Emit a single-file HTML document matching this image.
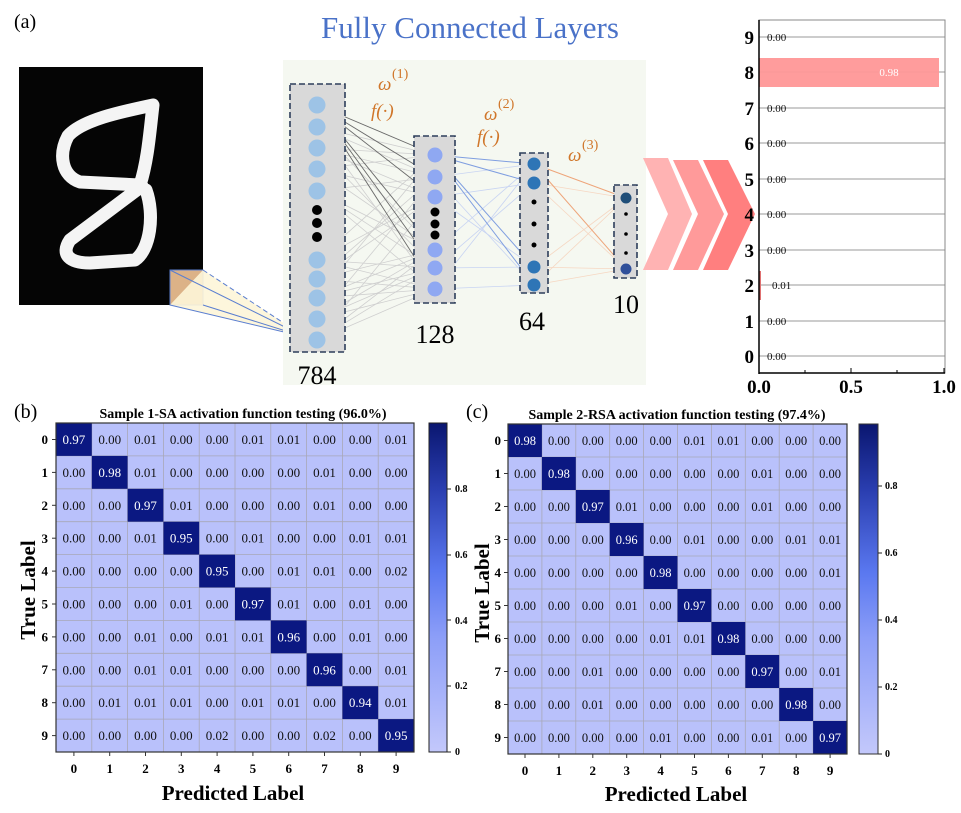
<!DOCTYPE html>
<html><head><meta charset="utf-8"><style>
html,body{margin:0;padding:0;background:#fff;}
svg{display:block;font-family:"Liberation Serif",serif;}
</style></head><body>
<svg width="961" height="813" viewBox="0 0 961 813" xmlns="http://www.w3.org/2000/svg">
<text x="14" y="28" font-size="20">(a)</text>
<text x="470" y="38" font-size="31" fill="#4a72c8" text-anchor="middle">Fully Connected Layers</text>

<!-- digit image -->
<rect x="19" y="67" width="184" height="238" fill="#050505"/>
<g fill="none" stroke="#f4f4f4" stroke-linecap="round" stroke-linejoin="round" stroke-width="13">
<path d="M153,105 C120,112 82,120 68,136 C58,155 62,176 80,182 L140,185 C148,160 150,130 153,105 Z"/>
<path d="M142,186 L70,240 C60,255 70,263 90,263 L135,260 C150,250 155,215 146,190"/>
</g>
<rect x="170" y="270" width="33" height="35" fill="#dcb287" stroke="#5a7ed0" stroke-width="1"/>
<polygon points="203,270 305,337 170,305" fill="#fdf5d8" opacity="0.9"/>
<line x1="203" y1="270" x2="305" y2="337" stroke="#5a7ed0" stroke-dasharray="5,3"/>
<line x1="170" y1="305" x2="305" y2="337" stroke="#5a7ed0"/>
<line x1="203" y1="305" x2="305" y2="337" stroke="#5a7ed0"/>
<line x1="170" y1="270" x2="305" y2="337" stroke="#5a7ed0"/>

<!-- network panel -->
<rect x="283" y="60" width="363" height="325" fill="#f5f8f1"/>
<g stroke="#cfcfcf" stroke-width="0.8">
<line x1="317" y1="127" x2="435" y2="155"/><line x1="317" y1="148" x2="435" y2="177"/><line x1="317" y1="169" x2="435" y2="197"/><line x1="317" y1="191" x2="435" y2="250"/><line x1="317" y1="260" x2="435" y2="268"/><line x1="317" y1="279" x2="435" y2="289"/><line x1="317" y1="298" x2="435" y2="155"/><line x1="317" y1="319" x2="435" y2="177"/><line x1="317" y1="340" x2="435" y2="197"/><line x1="317" y1="127" x2="435" y2="289"/><line x1="317" y1="148" x2="435" y2="268"/><line x1="317" y1="169" x2="435" y2="250"/><line x1="317" y1="260" x2="435" y2="155"/><line x1="317" y1="279" x2="435" y2="197"/><line x1="317" y1="298" x2="435" y2="250"/><line x1="317" y1="319" x2="435" y2="268"/><line x1="317" y1="340" x2="435" y2="289"/><line x1="317" y1="191" x2="435" y2="177"/><line x1="317" y1="340" x2="435" y2="250"/><line x1="317" y1="319" x2="435" y2="289"/><line x1="317" y1="260" x2="435" y2="289"/><line x1="317" y1="279" x2="435" y2="250"/><line x1="317" y1="169" x2="435" y2="155"/>
<line x1="317" y1="127" x2="435" y2="177"/><line x1="317" y1="148" x2="435" y2="197"/><line x1="317" y1="191" x2="435" y2="268"/><line x1="317" y1="260" x2="435" y2="197"/><line x1="317" y1="279" x2="435" y2="177"/><line x1="317" y1="298" x2="435" y2="289"/><line x1="317" y1="319" x2="435" y2="250"/><line x1="317" y1="340" x2="435" y2="268"/><line x1="317" y1="127" x2="435" y2="250"/><line x1="317" y1="148" x2="435" y2="155"/><line x1="317" y1="191" x2="435" y2="289"/><line x1="317" y1="298" x2="435" y2="268"/>
</g>
<g stroke="#6a6a6a" stroke-width="0.9">
<line x1="317" y1="105" x2="435" y2="155"/><line x1="317" y1="105" x2="435" y2="177"/><line x1="317" y1="105" x2="435" y2="197"/><line x1="317" y1="105" x2="435" y2="250"/><line x1="317" y1="105" x2="435" y2="268"/><line x1="317" y1="105" x2="435" y2="289"/>
</g>
<g stroke="#c8d4f2" stroke-width="0.8">
<line x1="435" y1="177" x2="534" y2="164"/><line x1="435" y1="197" x2="534" y2="183"/><line x1="435" y1="250" x2="534" y2="164"/><line x1="435" y1="268" x2="534" y2="267"/><line x1="435" y1="289" x2="534" y2="285"/><line x1="435" y1="289" x2="534" y2="164"/><line x1="435" y1="268" x2="534" y2="183"/><line x1="435" y1="177" x2="534" y2="285"/><line x1="435" y1="197" x2="534" y2="267"/>
</g>
<g stroke="#7f9ee0" stroke-width="1">
<line x1="435" y1="155" x2="534" y2="164"/><line x1="435" y1="155" x2="534" y2="183"/><line x1="435" y1="155" x2="534" y2="267"/><line x1="435" y1="155" x2="534" y2="285"/>
</g>
<g stroke="#f6d7c2" stroke-width="0.8">
<line x1="534" y1="183" x2="626" y2="198"/><line x1="534" y1="267" x2="626" y2="198"/><line x1="534" y1="285" x2="626" y2="269"/><line x1="534" y1="267" x2="626" y2="269"/><line x1="534" y1="285" x2="626" y2="198"/><line x1="534" y1="183" x2="626" y2="269"/>
</g>
<g stroke="#eea57a" stroke-width="1"><line x1="534" y1="164" x2="626" y2="198"/><line x1="534" y1="164" x2="626" y2="269"/></g>

<g fill="#d9d9d9" stroke="#2d3e5a" stroke-width="1.6" stroke-dasharray="6,3">
<rect x="290" y="84" width="55" height="268"/>
<rect x="414" y="136" width="41" height="167"/>
<rect x="520" y="153" width="28" height="140"/>
<rect x="614" y="185" width="23" height="93"/>
</g>
<g fill="#9dc3e6">
<circle cx="317" cy="105" r="8.5"/><circle cx="317" cy="127" r="8.5"/><circle cx="317" cy="148" r="8.5"/><circle cx="317" cy="169" r="8.5"/><circle cx="317" cy="191" r="8.5"/><circle cx="317" cy="260" r="8.5"/><circle cx="317" cy="279" r="8.5"/><circle cx="317" cy="298" r="8.5"/><circle cx="317" cy="319" r="8.5"/><circle cx="317" cy="340" r="8.5"/>
</g>
<g fill="#000"><circle cx="317" cy="210" r="5"/><circle cx="317" cy="223" r="5"/><circle cx="317" cy="237" r="5"/>
<circle cx="435" cy="212" r="4.5"/><circle cx="435" cy="224" r="4.5"/><circle cx="435" cy="235" r="4.5"/>
<circle cx="534" cy="202" r="2.5"/><circle cx="534" cy="224" r="2.5"/><circle cx="534" cy="245" r="2.5"/>
<circle cx="626" cy="214" r="1.8"/><circle cx="626" cy="234" r="1.8"/><circle cx="626" cy="253" r="1.8"/></g>
<g fill="#8fa8f2"><circle cx="435" cy="155" r="7.5"/><circle cx="435" cy="177" r="7.5"/><circle cx="435" cy="197" r="7.5"/><circle cx="435" cy="250" r="7.5"/><circle cx="435" cy="268" r="7.5"/><circle cx="435" cy="289" r="7.5"/></g>
<g fill="#2e75b6"><circle cx="534" cy="164" r="6.5"/><circle cx="534" cy="183" r="6.5"/><circle cx="534" cy="267" r="6.5"/><circle cx="534" cy="285" r="6.5"/></g>
<circle cx="626" cy="198" r="5.5" fill="#1f4e79"/><circle cx="626" cy="269" r="5.5" fill="#2f4f9a"/>
<g font-size="26" text-anchor="middle"><text x="317" y="384">784</text><text x="435" y="343">128</text><text x="532" y="330">64</text><text x="626" y="313">10</text></g>
<g fill="#d0762a" font-size="19">
<text x="378" y="90" font-style="italic">ω</text><text x="392" y="78" font-size="14">(1)</text>
<text x="371" y="117" font-style="italic">f(·)</text>
<text x="484" y="120" font-style="italic">ω</text><text x="498" y="108" font-size="14">(2)</text>
<text x="477" y="143" font-style="italic">f(·)</text>
<text x="568" y="161" font-style="italic">ω</text><text x="582" y="149" font-size="14">(3)</text>
</g>
<!-- chevrons -->
<polygon points="643,158 668,158 692,214 668,270 643,270 668,214" fill="#ffb3b3"/>
<polygon points="673,160 698,160 724,214 698,270 673,270 698,214" fill="#ff9a9a"/>
<polygon points="703,160 728,160 755,214 728,270 703,270 728,214" fill="#ff7f7f"/>

<!-- bar chart -->
<g stroke="#999" stroke-width="1">
<line x1="759" y1="37" x2="945" y2="37"/><line x1="759" y1="72" x2="945" y2="72"/><line x1="759" y1="108" x2="945" y2="108"/><line x1="759" y1="143" x2="945" y2="143"/><line x1="759" y1="179" x2="945" y2="179"/><line x1="759" y1="214" x2="945" y2="214"/><line x1="759" y1="250" x2="945" y2="250"/><line x1="759" y1="285" x2="945" y2="285"/><line x1="759" y1="321" x2="945" y2="321"/><line x1="759" y1="356" x2="945" y2="356"/>
</g>
<rect x="759" y="58" width="180" height="29" fill="#ff9797" opacity="0.95"/>
<rect x="759" y="271" width="2" height="29" fill="#e07070"/>
<rect x="759" y="20" width="186" height="353" fill="none" stroke="#888" stroke-width="1"/>
<line x1="759" y1="20" x2="759" y2="374" stroke="#000" stroke-width="1.5"/>
<line x1="759" y1="373" x2="945" y2="373" stroke="#000" stroke-width="1.5"/>
<g stroke="#000"><line x1="805" y1="373" x2="805" y2="370"/><line x1="851" y1="373" x2="851" y2="368"/><line x1="897" y1="373" x2="897" y2="370"/><line x1="944" y1="373" x2="944" y2="368"/></g>
<g font-size="11" fill="#111"><text x="767" y="41">0.00</text><text x="767" y="112">0.00</text><text x="767" y="147">0.00</text><text x="767" y="183">0.00</text><text x="767" y="218">0.00</text><text x="767" y="254">0.00</text><text x="772" y="289">0.01</text><text x="767" y="325">0.00</text><text x="767" y="360">0.00</text></g>
<text x="889" y="76" font-size="11" fill="#fff" text-anchor="middle">0.98</text>
<g font-size="19" font-weight="bold" text-anchor="end"><text x="754" y="44">9</text><text x="754" y="79">8</text><text x="754" y="115">7</text><text x="754" y="150">6</text><text x="754" y="186">5</text><text x="754" y="221">4</text><text x="754" y="257">3</text><text x="754" y="292">2</text><text x="754" y="328">1</text><text x="754" y="363">0</text></g>
<g font-size="19" font-weight="bold" text-anchor="middle"><text x="759" y="393">0.0</text><text x="851" y="393">0.5</text><text x="944" y="393">1.0</text></g>

<!-- (b) -->
<text x="14" y="418" font-size="20">(b)</text>
<text x="243" y="418" font-size="14" font-weight="bold" text-anchor="middle">Sample 1-SA activation function testing (96.0%)</text>
<g transform="translate(56,423)">
<rect width="358" height="329" fill="#b9c1fb"/>
<g stroke="#a8a8b8" stroke-width="0.8">
<line x1="35.8" y1="0" x2="35.8" y2="329"/><line x1="71.6" y1="0" x2="71.6" y2="329"/><line x1="107.4" y1="0" x2="107.4" y2="329"/><line x1="143.2" y1="0" x2="143.2" y2="329"/><line x1="179" y1="0" x2="179" y2="329"/><line x1="214.8" y1="0" x2="214.8" y2="329"/><line x1="250.6" y1="0" x2="250.6" y2="329"/><line x1="286.4" y1="0" x2="286.4" y2="329"/><line x1="322.2" y1="0" x2="322.2" y2="329"/>
<line y1="32.9" x1="0" y2="32.9" x2="358"/><line y1="65.8" x1="0" y2="65.8" x2="358"/><line y1="98.7" x1="0" y2="98.7" x2="358"/><line y1="131.6" x1="0" y2="131.6" x2="358"/><line y1="164.5" x1="0" y2="164.5" x2="358"/><line y1="197.4" x1="0" y2="197.4" x2="358"/><line y1="230.3" x1="0" y2="230.3" x2="358"/><line y1="263.2" x1="0" y2="263.2" x2="358"/><line y1="296.1" x1="0" y2="296.1" x2="358"/>
</g>
<g fill="#0b1882"><rect x="0" y="0" width="35.8" height="32.9"/><rect x="35.8" y="32.9" width="35.8" height="32.9"/><rect x="71.6" y="65.8" width="35.8" height="32.9"/><rect x="107.4" y="98.7" width="35.8" height="32.9"/><rect x="143.2" y="131.6" width="35.8" height="32.9"/><rect x="179" y="164.5" width="35.8" height="32.9"/><rect x="214.8" y="197.4" width="35.8" height="32.9"/><rect x="250.6" y="230.3" width="35.8" height="32.9"/><rect x="286.4" y="263.2" width="35.8" height="32.9"/><rect x="322.2" y="296.1" width="35.8" height="32.9"/></g>
<rect width="358" height="329" fill="none" stroke="#333" stroke-width="1.2"/>
<g stroke="#333"><line x1="-4" y1="16.5" x2="0" y2="16.5"/><line x1="-4" y1="49.4" x2="0" y2="49.4"/><line x1="-4" y1="82.3" x2="0" y2="82.3"/><line x1="-4" y1="115.2" x2="0" y2="115.2"/><line x1="-4" y1="148.1" x2="0" y2="148.1"/><line x1="-4" y1="181" x2="0" y2="181"/><line x1="-4" y1="213.9" x2="0" y2="213.9"/><line x1="-4" y1="246.8" x2="0" y2="246.8"/><line x1="-4" y1="279.7" x2="0" y2="279.7"/><line x1="-4" y1="312.6" x2="0" y2="312.6"/>
<line x1="17.9" y1="329" x2="17.9" y2="333"/><line x1="53.7" y1="329" x2="53.7" y2="333"/><line x1="89.5" y1="329" x2="89.5" y2="333"/><line x1="125.3" y1="329" x2="125.3" y2="333"/><line x1="161.1" y1="329" x2="161.1" y2="333"/><line x1="196.9" y1="329" x2="196.9" y2="333"/><line x1="232.7" y1="329" x2="232.7" y2="333"/><line x1="268.5" y1="329" x2="268.5" y2="333"/><line x1="304.3" y1="329" x2="304.3" y2="333"/><line x1="340.1" y1="329" x2="340.1" y2="333"/></g>
<g font-size="13" text-anchor="middle" fill="#111">
<text y="21"><tspan x="17.9" fill="#fff">0.97</tspan><tspan x="53.7">0.00</tspan><tspan x="89.5">0.01</tspan><tspan x="125.3">0.00</tspan><tspan x="161.1">0.00</tspan><tspan x="196.9">0.01</tspan><tspan x="232.7">0.01</tspan><tspan x="268.5">0.00</tspan><tspan x="304.3">0.00</tspan><tspan x="340.1">0.01</tspan></text>
<text y="53.9"><tspan x="17.9">0.00</tspan><tspan x="53.7" fill="#fff">0.98</tspan><tspan x="89.5">0.01</tspan><tspan x="125.3">0.00</tspan><tspan x="161.1">0.00</tspan><tspan x="196.9">0.00</tspan><tspan x="232.7">0.00</tspan><tspan x="268.5">0.01</tspan><tspan x="304.3">0.00</tspan><tspan x="340.1">0.00</tspan></text>
<text y="86.8"><tspan x="17.9">0.00</tspan><tspan x="53.7">0.00</tspan><tspan x="89.5" fill="#fff">0.97</tspan><tspan x="125.3">0.01</tspan><tspan x="161.1">0.00</tspan><tspan x="196.9">0.00</tspan><tspan x="232.7">0.00</tspan><tspan x="268.5">0.01</tspan><tspan x="304.3">0.00</tspan><tspan x="340.1">0.00</tspan></text>
<text y="119.7"><tspan x="17.9">0.00</tspan><tspan x="53.7">0.00</tspan><tspan x="89.5">0.01</tspan><tspan x="125.3" fill="#fff">0.95</tspan><tspan x="161.1">0.00</tspan><tspan x="196.9">0.01</tspan><tspan x="232.7">0.00</tspan><tspan x="268.5">0.00</tspan><tspan x="304.3">0.01</tspan><tspan x="340.1">0.01</tspan></text>
<text y="152.6"><tspan x="17.9">0.00</tspan><tspan x="53.7">0.00</tspan><tspan x="89.5">0.00</tspan><tspan x="125.3">0.00</tspan><tspan x="161.1" fill="#fff">0.95</tspan><tspan x="196.9">0.00</tspan><tspan x="232.7">0.01</tspan><tspan x="268.5">0.01</tspan><tspan x="304.3">0.00</tspan><tspan x="340.1">0.02</tspan></text>
<text y="185.5"><tspan x="17.9">0.00</tspan><tspan x="53.7">0.00</tspan><tspan x="89.5">0.00</tspan><tspan x="125.3">0.01</tspan><tspan x="161.1">0.00</tspan><tspan x="196.9" fill="#fff">0.97</tspan><tspan x="232.7">0.01</tspan><tspan x="268.5">0.00</tspan><tspan x="304.3">0.01</tspan><tspan x="340.1">0.00</tspan></text>
<text y="218.4"><tspan x="17.9">0.00</tspan><tspan x="53.7">0.00</tspan><tspan x="89.5">0.01</tspan><tspan x="125.3">0.00</tspan><tspan x="161.1">0.01</tspan><tspan x="196.9">0.01</tspan><tspan x="232.7" fill="#fff">0.96</tspan><tspan x="268.5">0.00</tspan><tspan x="304.3">0.01</tspan><tspan x="340.1">0.00</tspan></text>
<text y="251.3"><tspan x="17.9">0.00</tspan><tspan x="53.7">0.00</tspan><tspan x="89.5">0.01</tspan><tspan x="125.3">0.01</tspan><tspan x="161.1">0.00</tspan><tspan x="196.9">0.00</tspan><tspan x="232.7">0.00</tspan><tspan x="268.5" fill="#fff">0.96</tspan><tspan x="304.3">0.00</tspan><tspan x="340.1">0.01</tspan></text>
<text y="284.2"><tspan x="17.9">0.00</tspan><tspan x="53.7">0.01</tspan><tspan x="89.5">0.01</tspan><tspan x="125.3">0.01</tspan><tspan x="161.1">0.00</tspan><tspan x="196.9">0.01</tspan><tspan x="232.7">0.01</tspan><tspan x="268.5">0.00</tspan><tspan x="304.3" fill="#fff">0.94</tspan><tspan x="340.1">0.01</tspan></text>
<text y="317.1"><tspan x="17.9">0.00</tspan><tspan x="53.7">0.00</tspan><tspan x="89.5">0.00</tspan><tspan x="125.3">0.00</tspan><tspan x="161.1">0.02</tspan><tspan x="196.9">0.00</tspan><tspan x="232.7">0.00</tspan><tspan x="268.5">0.02</tspan><tspan x="304.3">0.00</tspan><tspan x="340.1" fill="#fff">0.95</tspan></text>
</g>
<g font-size="13" font-weight="bold" text-anchor="end"><text x="-8" y="21">0</text><text x="-8" y="54">1</text><text x="-8" y="87">2</text><text x="-8" y="120">3</text><text x="-8" y="152.5">4</text><text x="-8" y="185.5">5</text><text x="-8" y="218.5">6</text><text x="-8" y="251">7</text><text x="-8" y="284">8</text><text x="-8" y="317">9</text></g>
<g font-size="13" font-weight="bold" text-anchor="middle"><text y="350" x="17.9">0</text><text y="350" x="53.7">1</text><text y="350" x="89.5">2</text><text y="350" x="125.3">3</text><text y="350" x="161.1">4</text><text y="350" x="196.9">5</text><text y="350" x="232.7">6</text><text y="350" x="268.5">7</text><text y="350" x="304.3">8</text><text y="350" x="340.1">9</text></g>
</g>
<text x="233" y="800" font-size="21" font-weight="bold" text-anchor="middle">Predicted Label</text>
<text transform="translate(35,590) rotate(-90)" font-size="21" font-weight="bold" text-anchor="middle">True Label</text>

<defs><linearGradient id="cb" x1="0" y1="1" x2="0" y2="0">
<stop offset="0" stop-color="#c3c8fb"/><stop offset="0.35" stop-color="#8c9ef8"/><stop offset="0.55" stop-color="#5a78f0"/><stop offset="0.8" stop-color="#2a3eb0"/><stop offset="1" stop-color="#0a1670"/></linearGradient></defs>
<rect x="429" y="423" width="18" height="329" fill="url(#cb)" stroke="#222"/>
<g stroke="#222"><line x1="447" y1="752" x2="451" y2="752"/><line x1="447" y1="686" x2="451" y2="686"/><line x1="447" y1="620" x2="451" y2="620"/><line x1="447" y1="555" x2="451" y2="555"/><line x1="447" y1="489" x2="451" y2="489"/></g>
<g font-size="10" font-weight="bold"><text x="455" y="755">0</text><text x="455" y="689">0.2</text><text x="455" y="624">0.4</text><text x="455" y="558">0.6</text><text x="455" y="492">0.8</text></g>

<!-- (c) -->
<text x="466" y="418" font-size="20">(c)</text>
<text x="677" y="419" font-size="14" font-weight="bold" text-anchor="middle">Sample 2-RSA activation function testing (97.4%)</text>
<g transform="translate(508,424)">
<rect width="339" height="330" fill="#b9c1fb"/>
<g stroke="#a8a8b8" stroke-width="0.8">
<line x1="33.9" y1="0" x2="33.9" y2="330"/><line x1="67.8" y1="0" x2="67.8" y2="330"/><line x1="101.7" y1="0" x2="101.7" y2="330"/><line x1="135.6" y1="0" x2="135.6" y2="330"/><line x1="169.5" y1="0" x2="169.5" y2="330"/><line x1="203.4" y1="0" x2="203.4" y2="330"/><line x1="237.3" y1="0" x2="237.3" y2="330"/><line x1="271.2" y1="0" x2="271.2" y2="330"/><line x1="305.1" y1="0" x2="305.1" y2="330"/>
<line y1="33" x1="0" y2="33" x2="339"/><line y1="66" x1="0" y2="66" x2="339"/><line y1="99" x1="0" y2="99" x2="339"/><line y1="132" x1="0" y2="132" x2="339"/><line y1="165" x1="0" y2="165" x2="339"/><line y1="198" x1="0" y2="198" x2="339"/><line y1="231" x1="0" y2="231" x2="339"/><line y1="264" x1="0" y2="264" x2="339"/><line y1="297" x1="0" y2="297" x2="339"/>
</g>
<g fill="#0b1882"><rect x="0" y="0" width="33.9" height="33"/><rect x="33.9" y="33" width="33.9" height="33"/><rect x="67.8" y="66" width="33.9" height="33"/><rect x="101.7" y="99" width="33.9" height="33"/><rect x="135.6" y="132" width="33.9" height="33"/><rect x="169.5" y="165" width="33.9" height="33"/><rect x="203.4" y="198" width="33.9" height="33"/><rect x="237.3" y="231" width="33.9" height="33"/><rect x="271.2" y="264" width="33.9" height="33"/><rect x="305.1" y="297" width="33.9" height="33"/></g>
<rect width="339" height="330" fill="none" stroke="#333" stroke-width="1.2"/>
<g stroke="#333"><line x1="-4" y1="16.5" x2="0" y2="16.5"/><line x1="-4" y1="49.5" x2="0" y2="49.5"/><line x1="-4" y1="82.5" x2="0" y2="82.5"/><line x1="-4" y1="115.5" x2="0" y2="115.5"/><line x1="-4" y1="148.5" x2="0" y2="148.5"/><line x1="-4" y1="181.5" x2="0" y2="181.5"/><line x1="-4" y1="214.5" x2="0" y2="214.5"/><line x1="-4" y1="247.5" x2="0" y2="247.5"/><line x1="-4" y1="280.5" x2="0" y2="280.5"/><line x1="-4" y1="313.5" x2="0" y2="313.5"/>
<line x1="17" y1="330" x2="17" y2="334"/><line x1="50.9" y1="330" x2="50.9" y2="334"/><line x1="84.8" y1="330" x2="84.8" y2="334"/><line x1="118.7" y1="330" x2="118.7" y2="334"/><line x1="152.6" y1="330" x2="152.6" y2="334"/><line x1="186.5" y1="330" x2="186.5" y2="334"/><line x1="220.4" y1="330" x2="220.4" y2="334"/><line x1="254.3" y1="330" x2="254.3" y2="334"/><line x1="288.2" y1="330" x2="288.2" y2="334"/><line x1="322.1" y1="330" x2="322.1" y2="334"/></g>
<g font-size="12.5" text-anchor="middle" fill="#111">
<text y="21"><tspan x="17" fill="#fff">0.98</tspan><tspan x="50.9">0.00</tspan><tspan x="84.8">0.00</tspan><tspan x="118.7">0.00</tspan><tspan x="152.6">0.00</tspan><tspan x="186.5">0.01</tspan><tspan x="220.4">0.01</tspan><tspan x="254.3">0.00</tspan><tspan x="288.2">0.00</tspan><tspan x="322.1">0.00</tspan></text>
<text y="54"><tspan x="17">0.00</tspan><tspan x="50.9" fill="#fff">0.98</tspan><tspan x="84.8">0.00</tspan><tspan x="118.7">0.00</tspan><tspan x="152.6">0.00</tspan><tspan x="186.5">0.00</tspan><tspan x="220.4">0.00</tspan><tspan x="254.3">0.01</tspan><tspan x="288.2">0.00</tspan><tspan x="322.1">0.00</tspan></text>
<text y="87"><tspan x="17">0.00</tspan><tspan x="50.9">0.00</tspan><tspan x="84.8" fill="#fff">0.97</tspan><tspan x="118.7">0.01</tspan><tspan x="152.6">0.00</tspan><tspan x="186.5">0.00</tspan><tspan x="220.4">0.00</tspan><tspan x="254.3">0.01</tspan><tspan x="288.2">0.00</tspan><tspan x="322.1">0.00</tspan></text>
<text y="120"><tspan x="17">0.00</tspan><tspan x="50.9">0.00</tspan><tspan x="84.8">0.00</tspan><tspan x="118.7" fill="#fff">0.96</tspan><tspan x="152.6">0.00</tspan><tspan x="186.5">0.01</tspan><tspan x="220.4">0.00</tspan><tspan x="254.3">0.00</tspan><tspan x="288.2">0.01</tspan><tspan x="322.1">0.01</tspan></text>
<text y="153"><tspan x="17">0.00</tspan><tspan x="50.9">0.00</tspan><tspan x="84.8">0.00</tspan><tspan x="118.7">0.00</tspan><tspan x="152.6" fill="#fff">0.98</tspan><tspan x="186.5">0.00</tspan><tspan x="220.4">0.00</tspan><tspan x="254.3">0.00</tspan><tspan x="288.2">0.00</tspan><tspan x="322.1">0.01</tspan></text>
<text y="186"><tspan x="17">0.00</tspan><tspan x="50.9">0.00</tspan><tspan x="84.8">0.00</tspan><tspan x="118.7">0.01</tspan><tspan x="152.6">0.00</tspan><tspan x="186.5" fill="#fff">0.97</tspan><tspan x="220.4">0.00</tspan><tspan x="254.3">0.00</tspan><tspan x="288.2">0.00</tspan><tspan x="322.1">0.00</tspan></text>
<text y="219"><tspan x="17">0.00</tspan><tspan x="50.9">0.00</tspan><tspan x="84.8">0.00</tspan><tspan x="118.7">0.00</tspan><tspan x="152.6">0.01</tspan><tspan x="186.5">0.01</tspan><tspan x="220.4" fill="#fff">0.98</tspan><tspan x="254.3">0.00</tspan><tspan x="288.2">0.00</tspan><tspan x="322.1">0.00</tspan></text>
<text y="252"><tspan x="17">0.00</tspan><tspan x="50.9">0.00</tspan><tspan x="84.8">0.01</tspan><tspan x="118.7">0.00</tspan><tspan x="152.6">0.00</tspan><tspan x="186.5">0.00</tspan><tspan x="220.4">0.00</tspan><tspan x="254.3" fill="#fff">0.97</tspan><tspan x="288.2">0.00</tspan><tspan x="322.1">0.01</tspan></text>
<text y="285"><tspan x="17">0.00</tspan><tspan x="50.9">0.00</tspan><tspan x="84.8">0.01</tspan><tspan x="118.7">0.00</tspan><tspan x="152.6">0.00</tspan><tspan x="186.5">0.00</tspan><tspan x="220.4">0.00</tspan><tspan x="254.3">0.00</tspan><tspan x="288.2" fill="#fff">0.98</tspan><tspan x="322.1">0.00</tspan></text>
<text y="318"><tspan x="17">0.00</tspan><tspan x="50.9">0.00</tspan><tspan x="84.8">0.00</tspan><tspan x="118.7">0.00</tspan><tspan x="152.6">0.01</tspan><tspan x="186.5">0.00</tspan><tspan x="220.4">0.00</tspan><tspan x="254.3">0.01</tspan><tspan x="288.2">0.00</tspan><tspan x="322.1" fill="#fff">0.97</tspan></text>
</g>
<g font-size="13" font-weight="bold" text-anchor="end"><text x="-7" y="21">0</text><text x="-7" y="54">1</text><text x="-7" y="87">2</text><text x="-7" y="120">3</text><text x="-7" y="153">4</text><text x="-7" y="186">5</text><text x="-7" y="219">6</text><text x="-7" y="252">7</text><text x="-7" y="285">8</text><text x="-7" y="318">9</text></g>
<g font-size="13" font-weight="bold" text-anchor="middle"><text y="351" x="17">0</text><text y="351" x="50.9">1</text><text y="351" x="84.8">2</text><text y="351" x="118.7">3</text><text y="351" x="152.6">4</text><text y="351" x="186.5">5</text><text y="351" x="220.4">6</text><text y="351" x="254.3">7</text><text y="351" x="288.2">8</text><text y="351" x="322.1">9</text></g>
</g>
<text x="676" y="801" font-size="21" font-weight="bold" text-anchor="middle">Predicted Label</text>
<text transform="translate(489,593) rotate(-90)" font-size="21" font-weight="bold" text-anchor="middle">True Label</text>
<rect x="859" y="424" width="19" height="330" fill="url(#cb)" stroke="#333"/>
<g stroke="#222"><line x1="878" y1="754" x2="882" y2="754"/><line x1="878" y1="687" x2="882" y2="687"/><line x1="878" y1="620" x2="882" y2="620"/><line x1="878" y1="553" x2="882" y2="553"/><line x1="878" y1="486" x2="882" y2="486"/></g>
<g font-size="10" font-weight="bold"><text x="885" y="757">0</text><text x="885" y="690">0.2</text><text x="885" y="623">0.4</text><text x="885" y="556">0.6</text><text x="885" y="489">0.8</text></g>
</svg>
</body></html>
